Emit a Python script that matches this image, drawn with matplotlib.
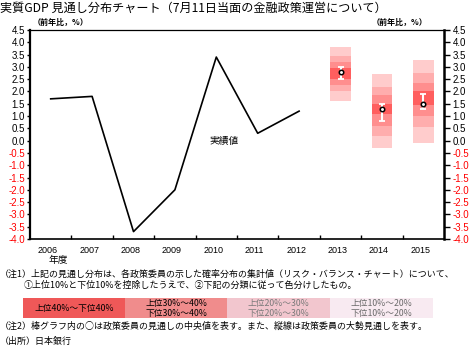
import matplotlib
matplotlib.use("Agg")
import matplotlib.pyplot as plt
import matplotlib.transforms as mtransforms
from matplotlib.patches import Rectangle

plt.rcParams['font.family'] = ['Noto Sans CJK JP', 'DejaVu Sans']

# ---- data ----
years = ['2006', '2007', '2008', '2009', '2010', '2011', '2012', '2013', '2014', '2015']
actual_years = ['2006', '2007', '2008', '2009', '2010', '2011', '2012']
actual_values = [1.7, 1.8, -3.7, -2.0, 3.4, 0.3, 1.2]

forecast_years = ['2013', '2014', '2015']
# band edges from top to bottom (7 bands)
edges_2013 = [3.8, 3.45, 3.2, 2.95, 2.5, 2.25, 2.0, 1.6]
edges_2014 = [2.7, 2.2, 1.85, 1.5, 1.1, 0.6, 0.2, -0.3]
edges_2015 = [3.3, 2.75, 2.35, 2.0, 1.45, 1.0, 0.55, -0.1]
medians = [2.8, 1.3, 1.5]
majority_low = [2.5, 0.8, 1.3]
majority_high = [3.0, 1.5, 1.9]

yticks = [4.5, 4.0, 3.5, 3.0, 2.5, 2.0, 1.5, 1.0, 0.5, 0.0, -0.5, -1.0, -1.5, -2.0,
          -2.5, -3.0, -3.5, -4.0]

legend_labels = ['上位40%～下位40%', '上位30%～40%\n下位30%～40%',
                 '上位20%～30%\n下位20%～30%', '上位10%～20%\n下位10%～20%']

band_colors = ['#ffcccc', '#ffadad', '#ff8e8e', '#ff5e5e', '#ff8e8e', '#ffadad', '#ffcccc']

W, H = 475, 352
fig = plt.figure(figsize=(W / 100, H / 100), dpi=100)
fig.patch.set_facecolor('white')

def fx(px):
    return px / W

def fy(py):
    return 1 - py / H

ax = fig.add_axes([fx(30), fy(239), fx(444) - fx(30), fy(30) - fy(239)])
ax.set_xlim(-0.5, 9.5)
ax.set_ylim(-4.0, 4.5)

xpos = {y: i for i, y in enumerate(years)}

# actual line
ax.plot([xpos[y] for y in actual_years], actual_values, color='black', lw=1.2, zorder=3)

# forecast bands
all_edges = [edges_2013, edges_2014, edges_2015]
for k, fyear in enumerate(forecast_years):
    e = all_edges[k]
    for j in range(7):
        ax.bar(xpos[fyear], e[j] - e[j + 1], bottom=e[j + 1], width=0.5,
               color=band_colors[j], edgecolor='none', zorder=2)
    ax.errorbar(xpos[fyear], medians[k],
                yerr=[[medians[k] - majority_low[k]], [majority_high[k] - medians[k]]],
                fmt='none', ecolor='white', elinewidth=1.5, capsize=2.0, capthick=1.3, zorder=4)
    ax.plot(xpos[fyear], medians[k], marker='o', ms=3.2, mfc='white', mec='black',
            mew=1.1, zorder=5)

ax.text(4.19, 0.0, '実績値', fontsize=7, ha='center', va='center')

# axes styling
for s in ['left', 'right', 'top', 'bottom']:
    ax.spines[s].set_color('black')
ax.spines['left'].set_linewidth(1.6)
ax.spines['right'].set_linewidth(1.8)
ax.spines['top'].set_linewidth(0.9)
ax.spines['bottom'].set_linewidth(1.2)

ax.set_xticks([i + 0.5 for i in range(9)])
ax.set_xticklabels([])
ax.tick_params(axis='x', which='major', direction='in', length=3, width=1, color='black')
ax.set_xticks(range(10), minor=True)
ax.set_xticklabels(years, minor=True, fontsize=6.5, family=['Liberation Sans'])
ax.tick_params(axis='x', which='minor', length=0, pad=5)
offset = mtransforms.ScaledTranslation(-3 / 100, 0, fig.dpi_scale_trans)
for lbl in ax.xaxis.get_minorticklabels():
    lbl.set_transform(lbl.get_transform() + offset)

def fmt(v):
    return '%.1f' % v

ax.set_yticks(yticks)
ax.set_yticklabels([fmt(v) for v in yticks], fontsize=7, family=['Liberation Sans'])
ax.tick_params(axis='y', direction='out', length=2, width=1, pad=1.5)
for lbl, v in zip(ax.get_yticklabels(), yticks):
    lbl.set_color('red' if v < 0 else 'black')

ax2 = ax.twinx()
ax2.set_ylim(-4.0, 4.5)
ax2.set_yticks(yticks)
ax2.set_yticklabels([fmt(v) for v in yticks], fontsize=7, family=['Liberation Sans'])
ax2.tick_params(axis='y', direction='out', length=4, width=1, pad=2)
for lbl, v in zip(ax2.get_yticklabels(), yticks):
    lbl.set_color('red' if v < 0 else 'black')
for s in ['left', 'right', 'top', 'bottom']:
    ax2.spines[s].set_visible(False)

# titles and unit labels
fig.text(fx(0), fy(8), '実質GDP 見通し分布チャート（7月11日当面の金融政策運営について）',
         fontsize=8.7, ha='left', va='center')
fig.text(fx(33), fy(22.5), '（前年比，%）', fontsize=5.8, ha='left', va='center', weight='bold')
fig.text(fx(372), fy(22.5), '（前年比，%）', fontsize=5.8, ha='left', va='center', weight='bold')
fig.text(fx(58), fy(260), '年度', fontsize=7, ha='center', va='center')

# notes
fig.text(fx(0), fy(274), '（注1）上記の見通し分布は、各政策委員の示した確率分布の集計値（リスク・バランス・チャート）について、',
         fontsize=6.45, ha='left', va='center')
fig.text(fx(24), fy(285), '①上位10%と下位10%を控除したうえで、②下記の分類に従って色分けしたもの。',
         fontsize=6.45, ha='left', va='center')
fig.text(fx(0), fy(326), '（注2）棒グラフ内の○は政策委員の見通しの中央値を表す。また、縦線は政策委員の大勢見通しを表す。',
         fontsize=6.45, ha='left', va='center')
fig.text(fx(0), fy(341), '（出所）日本銀行', fontsize=6.45, ha='left', va='center')

# legend boxes
box_x = [23, 125, 227, 330, 433]
box_colors = ['#ef5858', '#f08c8c', '#f2c6ce', '#f8eaf1']
text_colors = ['black', 'black', '#7a7a7a', '#6a6a6a']
for i in range(4):
    r = Rectangle((fx(box_x[i]), fy(318)), fx(box_x[i + 1]) - fx(box_x[i]), fy(298) - fy(318),
                  transform=fig.transFigure, facecolor=box_colors[i], edgecolor='none')
    fig.patches.append(r)
    fig.text(fx((box_x[i] + box_x[i + 1]) / 2), fy(308.5), legend_labels[i], fontsize=6.3,
             ha='center', va='center', color=text_colors[i], linespacing=1.05)

fig.savefig('out.png', dpi=100)
